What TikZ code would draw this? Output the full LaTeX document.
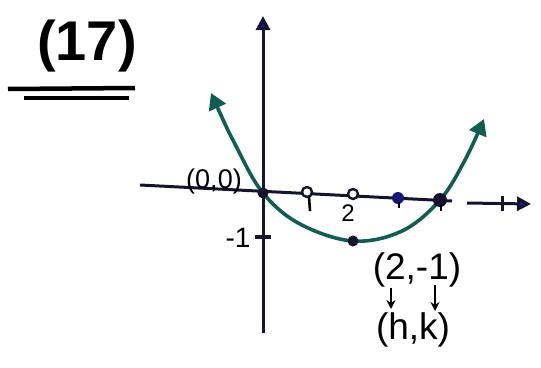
\documentclass[tikz,border=0pt]{standalone}
\usepackage{fontspec}
\setmainfont{Liberation Sans}
\usetikzlibrary{arrows.meta}
\definecolor{curve}{HTML}{0E5E52}
\definecolor{ink}{HTML}{14142E}
\definecolor{tip}{HTML}{1A1A9A}
\tikzset{
  axis/.style={ink, line width=3pt},
  curvestyle/.style={curve, line width=3.6pt},
  dotfill/.style={circle, fill=ink, inner sep=0pt, minimum size=11pt},
  dotopen/.style={circle, draw=ink, line width=2.4pt, fill=white, inner sep=0pt, minimum size=10pt},
  lab/.style={inner sep=0pt, text=black},
  pen/.style={black, line width=3pt},
}
\begin{document}
\begin{tikzpicture}[x=1pt,y=-1pt]
\useasboundingbox (0,0) rectangle (541,367);
% title
\node[lab, font=\fontsize{56}{58}\selectfont\bfseries] (title) at (87,46) {(17)};
\coordinate (u1a) at (8,89); \coordinate (u1b) at (135,88);
\coordinate (u2a) at (24,98); \coordinate (u2b) at (129,98);
\draw[pen, line width=4.5pt] (u1a) -- (u1b);
\draw[pen, line width=4pt] (u2a) -- (u2b);
% axes
\coordinate (ybot) at (263,333); \coordinate (ytop) at (263,16);
\draw[axis, -{Triangle[length=14pt,width=14pt,fill=tip]}] (ybot) -- (ytop);
\coordinate (xl) at (140,185); \coordinate (xg1) at (452,201);
\coordinate (xg2) at (467,203); \coordinate (xr) at (531,204);
\draw[axis] (xl) -- (xg1);
\draw[axis, -{Triangle[length=14pt,width=14pt,fill=tip]}] (xg2) -- (xr);
\coordinate (tkA) at (502,196); \coordinate (tkB) at (502,211);
\draw[axis] (tkA) -- (tkB);
% parabola
\draw[curvestyle, {Triangle[length=16pt,width=18pt]}-{Triangle[length=16pt,width=18pt]}]
  plot[smooth, tension=0.6] coordinates {(211,93) (236,146) (263,193) (300,224) (353,241) (402,231) (440,200) (465,160) (484,119)};
% points
\node[dotfill] (o) at (263,193) {};
\node[dotopen] (p1) at (307,192) {};
\node[dotopen] (p2) at (353,194) {};
\node[dotfill, fill=tip!70!ink, minimum size=12pt] (p3) at (398,198) {};
\node[dotfill, minimum size=14pt] (p4) at (440,200) {};
\node[dotfill] (v) at (353,241) {};
\coordinate (m1a) at (255,237); \coordinate (m1b) at (271,237);
\draw[axis, line width=3.5pt] (m1a) -- (m1b);
% small tick marks under points
\coordinate (t1a) at (309,197); \coordinate (t1b) at (310,211);
\draw[pen, line width=2.6pt] (t1a) -- (t1b);
\coordinate (t3a) at (399,202); \coordinate (t3b) at (399,208);
\draw[pen, line width=1.5pt] (t3a) -- (t3b);
\coordinate (t4a) at (441,205); \coordinate (t4b) at (441,211);
\draw[pen, line width=1.5pt] (t4a) -- (t4b);
% labels
\node[lab, font=\fontsize{27}{29}\selectfont] (l00) at (214,182) {(0,0)};
\node[lab, font=\fontsize{28}{30}\selectfont] (lm1) at (238,238) {-1};
\node[lab, font=\fontsize{24}{26}\selectfont] (l2) at (348,213) {2};
\node[lab, font=\fontsize{37}{39}\selectfont] (lv) at (417,270) {(2,-1)};
\node[lab, font=\fontsize{37}{39}\selectfont] (lhk) at (413,330) {(h,k)};
\coordinate (a1s) at (391,288); \coordinate (a1e) at (391,309);
\coordinate (a2s) at (435,285); \coordinate (a2e) at (435,311);
\draw[pen, line width=2.4pt, -{Stealth[length=9pt,width=9pt]}] (a1s) -- (a1e);
\draw[pen, line width=2.4pt, -{Stealth[length=9pt,width=9pt]}] (a2s) -- (a2e);
\end{tikzpicture}
\end{document}
